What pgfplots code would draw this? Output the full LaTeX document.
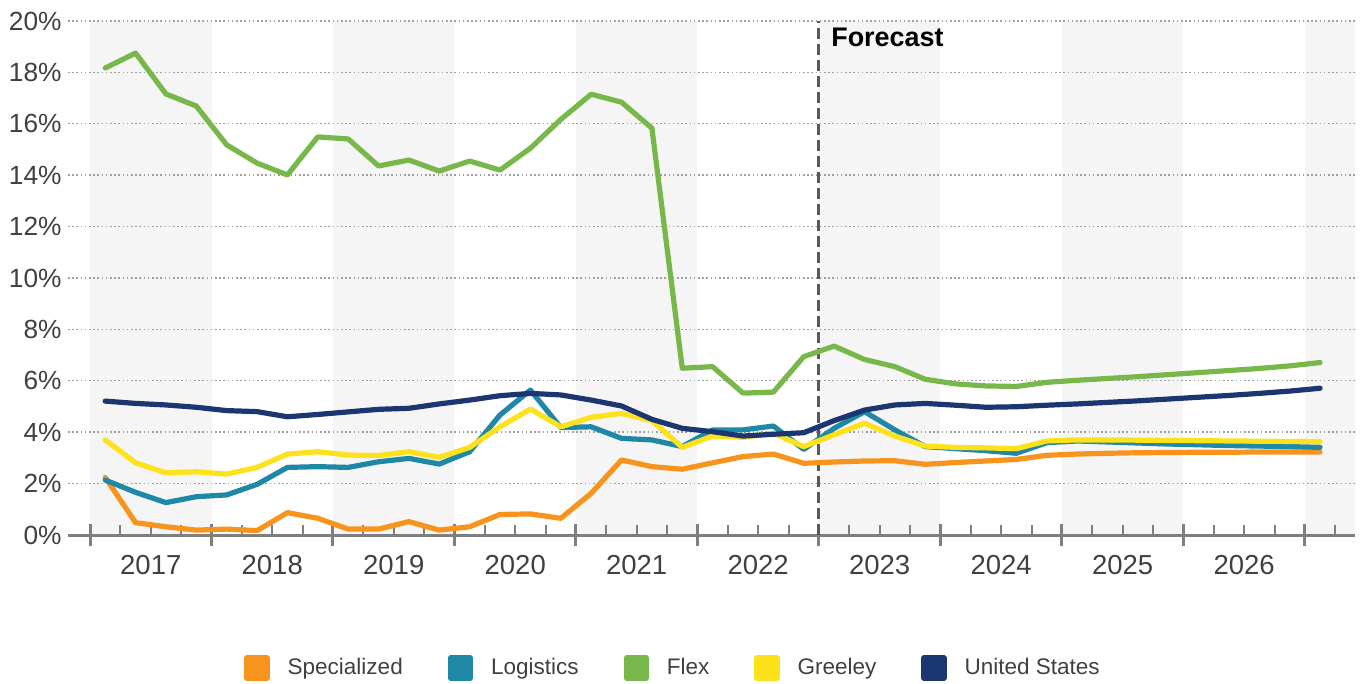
\documentclass[border=0pt]{standalone}
\usepackage{fontspec}
\setmainfont{Liberation Sans}
\usepackage{pgfplots}
\usepackage{pgfplotstable}
\pgfplotsset{compat=1.18}
\definecolor{cSpec}{HTML}{F7941D}
\definecolor{cLog}{HTML}{1F88A7}
\definecolor{cFlex}{HTML}{78B84A}
\definecolor{cGree}{HTML}{FDE11A}
\definecolor{cUS}{HTML}{1B3670}
\definecolor{band}{HTML}{F5F5F5}
\definecolor{axgray}{HTML}{7F7F7F}
\definecolor{txt}{HTML}{404040}
\definecolor{gridc}{HTML}{A0A0A0}
\definecolor{fcast}{HTML}{595959}

\pgfplotstableread{
i spec log flex gree us
0 2.24 2.14 18.17 3.70 5.21
1 0.48 1.66 18.75 2.81 5.12
2 0.32 1.26 17.16 2.42 5.06
3 0.19 1.49 16.69 2.46 4.97
4 0.23 1.56 15.18 2.37 4.84
5 0.17 1.97 14.47 2.63 4.80
6 0.87 2.63 14.01 3.15 4.60
7 0.65 2.66 15.49 3.24 4.69
8 0.23 2.63 15.41 3.11 4.79
9 0.23 2.85 14.36 3.09 4.89
10 0.52 2.98 14.59 3.24 4.93
11 0.19 2.76 14.16 3.02 5.10
12 0.32 3.24 14.55 3.41 5.25
13 0.80 4.67 14.20 4.21 5.42
14 0.82 5.64 15.05 4.90 5.51
15 0.65 4.18 16.17 4.21 5.45
16 1.62 4.21 17.15 4.58 5.25
17 2.92 3.76 16.84 4.73 5.02
18 2.66 3.70 15.83 4.45 4.50
19 2.56 3.44 6.49 3.41 4.15
20 2.81 4.09 6.55 3.85 4.02
21 3.05 4.09 5.52 3.80 3.85
22 3.15 4.24 5.56 3.96 3.92
23 2.79 3.33 6.94 3.44 3.98
24 2.84 4.15 7.35 3.90 4.45
25 2.88 4.80 6.83 4.35 4.86
26 2.89 4.09 6.55 3.85 5.06
27 2.75 3.44 6.06 3.46 5.12
28 2.82 3.36 5.88 3.41 5.05
29 2.88 3.28 5.80 3.39 4.97
30 2.94 3.18 5.78 3.36 4.99
31 3.10 3.59 5.94 3.66 5.05
32 3.15 3.66 6.02 3.70 5.10
33 3.18 3.62 6.09 3.70 5.16
34 3.20 3.58 6.16 3.69 5.22
35 3.21 3.54 6.24 3.68 5.29
36 3.22 3.51 6.32 3.67 5.36
37 3.22 3.48 6.40 3.66 5.43
38 3.23 3.46 6.48 3.65 5.51
39 3.23 3.44 6.58 3.64 5.60
40 3.23 3.41 6.71 3.63 5.71
}\data

\begin{document}
\begin{tikzpicture}
\path (-34bp,-74.5bp) rectangle (646.5bp,267.5bp);
\begin{axis}[
  set layers=standard,
  width=643.5bp, height=257bp, scale only axis,
  xmin=-1.225, xmax=41.15, ymin=0, ymax=20,
  clip=false,
  axis x line*=bottom, axis y line*=left,
  y axis line style={draw=none},
  x axis line style={axgray, line width=1.5bp},
  ytick={0,2,...,20},
  yticklabels={0\%,2\%,4\%,6\%,8\%,10\%,12\%,14\%,16\%,18\%,20\%},
  ytick style={draw=none},
  ymajorgrids,
  grid style={gridc, line width=0.7bp, dash pattern=on 0.8bp off 1.3bp},
  xtick={1.5,5.5,...,37.5},
  xticklabels={2017,2018,2019,2020,2021,2022,2023,2024,2025,2026},
  major tick length=0pt,
  minor xtick={-0.5,0.5,...,40.5},
  minor tick length=5bp,
  tick align=inside,
  minor x tick style={axgray, line width=1bp},
  major tick style={axgray, line width=1.5bp},
  extra x ticks={-0.5,3.5,...,39.5},
  extra x tick labels={},
  extra x tick style={tick align=center, major tick length=11bp},
  xticklabel style={font=\fontsize{13.8}{15}\selectfont, text=txt, anchor=center, inner sep=0pt, yshift=-15bp},
  yticklabel style={font=\fontsize{13.2}{15}\selectfont, text=txt, anchor=east, inner sep=0pt, xshift=-3bp},
  legend style={at={(0.1368,-0.2588)}, anchor=west, draw=none, fill=none, inner sep=0pt,
    font=\fontsize{11.3}{13}\selectfont,
    /tikz/every odd column/.append style={column sep=9bp},
    /tikz/every even column/.append style={column sep=22.5bp},
    nodes={inner sep=0pt, text=txt}},
  legend columns=5,
  legend cell align=left,
  legend image code/.code={\fill[#1] (0bp,-5bp) rectangle (10bp,5bp);},
  every axis plot/.append style={line width=2.6bp, line join=round, line cap=round},
]
\begin{pgfonlayer}{axis background}
\fill[band] (axis cs:-0.5,0) rectangle (axis cs:3.5,20);
\fill[band] (axis cs:7.5,0) rectangle (axis cs:11.5,20);
\fill[band] (axis cs:15.5,0) rectangle (axis cs:19.5,20);
\fill[band] (axis cs:23.5,0) rectangle (axis cs:27.5,20);
\fill[band] (axis cs:31.5,0) rectangle (axis cs:35.5,20);
\fill[band] (axis cs:39.5,0) rectangle (axis cs:41.15,20);
\end{pgfonlayer}
\addplot[fcast, line width=1.5bp, line cap=butt, dash pattern=on 5.5bp off 2.5bp, forget plot] coordinates {(23.5,0) (23.5,20)};
\addplot[cSpec] table[x=i,y=spec]{\data};
\addplot[cLog] table[x=i,y=log]{\data};
\addplot[cFlex] table[x=i,y=flex]{\data};
\addplot[cGree] table[x=i,y=gree]{\data};
\addplot[cUS] table[x=i,y=us]{\data};
\legend{Specialized,Logistics,Flex,Greeley,United States}
\node[anchor=north west, inner sep=0pt, xshift=6bp, yshift=-3.5bp, font=\fontsize{13.5}{15}\selectfont\bfseries] at (axis cs:23.5,20) {Forecast};
\end{axis}
\end{tikzpicture}
\end{document}
